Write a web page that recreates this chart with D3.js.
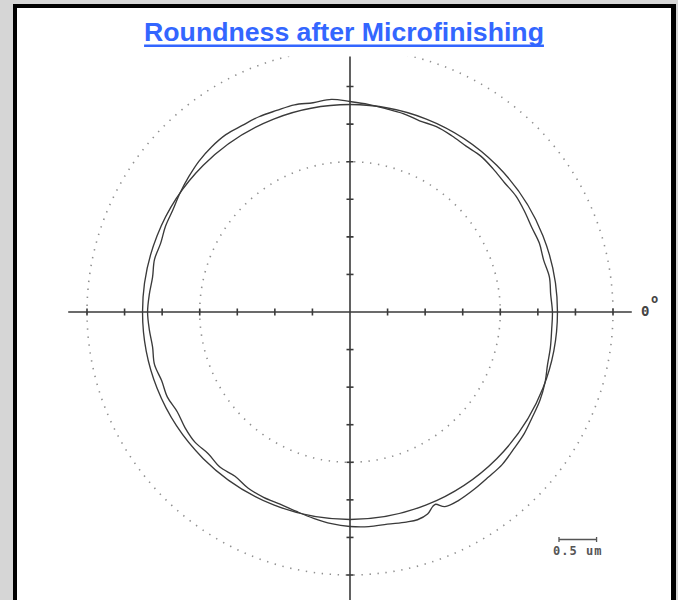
<!DOCTYPE html>
<html>
<head>
<meta charset="utf-8">
<script src="https://cdn.jsdelivr.net/npm/d3@7"></script>
<style>
  html, body { margin: 0; padding: 0; background: #d6d6d6; }
  svg { display: block; }
</style>
</head>
<body>
<script>
// ---- data ----
const titleText = "Roundness after Microfinishing";
const scaleLabel = "0.5 um";
const zeroLabel = "0";
// profile angles (degrees, counter-clockwise from 0° at right)
const profileAngles = [0,5,10,15,20,25,30,35,40,45,50,55,60,65,70,75,80,85,90,95,100,105,110,115,120,125,130,135,140,145,150,155,160,165,170,175,180,185,190,195,200,205,210,215,220,225,230,235,240,245,250,255,260,265,270,275,280,285,288,291,293,294,296,300,305,310,315,320,325,330,335,340,345,350,355];
// radial deviation from the reference circle (um)
const profileDeviation = [-0.067,-0.080,-0.067,-0.093,-0.080,-0.093,-0.080,-0.067,-0.080,-0.067,-0.053,-0.067,-0.053,-0.040,-0.053,-0.027,-0.013,0.013,0.040,0.080,0.067,0.093,0.093,0.106,0.106,0.120,0.106,0.080,0.040,0.000,-0.040,-0.053,-0.080,-0.067,-0.093,-0.080,-0.067,-0.080,-0.093,-0.067,-0.093,-0.080,-0.106,-0.080,-0.067,-0.093,-0.067,-0.093,-0.053,-0.040,-0.040,-0.013,0.027,0.067,0.093,0.106,0.106,0.133,0.146,0.120,0.053,0.040,0.120,0.133,0.120,0.106,0.106,0.080,0.067,0.040,0.027,0.000,-0.040,-0.053,-0.067];
const referenceRadius = 2.761;   // um
const dottedRadii = [2.0, 3.5];  // um
const tickValues = [-3.5,-3,-2.5,-2,-1.5,-1,-0.5,0.5,1,1.5,2,2.5,3,3.5];
const axisExtent = 3.75;
const scaleBarLength = 0.5;

// ---- layout ----
const W = 678, H = 600;
const cx = 350, cy = 312;
const R = d3.scaleLinear().domain([0, 3.5]).range([0, 263]);
const X = d3.scaleLinear().domain([-3.5, 3.5]).range([cx - R(3.5), cx + R(3.5)]);
const Y = d3.scaleLinear().domain([-3.5, 3.5]).range([cy + R(3.5), cy - R(3.5)]);

const svg = d3.select("body").append("svg").attr("width", W).attr("height", H);

// frame
svg.append("rect").attr("x", 0).attr("y", 0).attr("width", W).attr("height", H).attr("fill", "#d6d6d6");
svg.append("rect").attr("x", 13).attr("y", 4).attr("width", 663).attr("height", 700).attr("fill", "#000");
svg.append("rect").attr("x", 17).attr("y", 8).attr("width", 654).attr("height", 700).attr("fill", "#fff");

// title
const title = svg.append("text")
  .attr("x", 344).attr("y", 41)
  .attr("text-anchor", "middle")
  .attr("font-family", "'Liberation Sans', Arial, sans-serif")
  .attr("font-weight", "bold")
  .attr("font-size", "26.67px")
  .attr("fill", "#3366ff")
  .text(titleText);
const tw = title.node().getComputedTextLength();
svg.append("rect").attr("x", 344 - tw / 2).attr("y", 44.5).attr("width", tw).attr("height", 2.5).attr("fill", "#3366ff");

// plot area (clipped below title)
svg.append("clipPath").attr("id", "plotclip")
  .append("rect").attr("x", 17).attr("y", 56.5).attr("width", 654).attr("height", 560);
const g = svg.append("g").attr("clip-path", "url(#plotclip)");

const ink = "#3a3a3a";

// dotted circles
g.selectAll("circle.dot").data(dottedRadii).join("circle")
  .attr("class", "dot")
  .attr("cx", cx).attr("cy", cy).attr("r", d => R(d))
  .attr("fill", "none").attr("stroke", "#909090")
  .attr("stroke-width", 1.6)
  .attr("stroke-dasharray", "1.4,6.6");

// axes
g.append("line").attr("x1", X(-axisExtent)).attr("x2", X(axisExtent)).attr("y1", cy).attr("y2", cy)
  .attr("stroke", ink).attr("stroke-width", 1.6);
g.append("line").attr("x1", cx).attr("x2", cx).attr("y1", Y(axisExtent)).attr("y2", Y(-4.2))
  .attr("stroke", ink).attr("stroke-width", 1.6);
g.selectAll("line.xt").data(tickValues).join("line").attr("class", "xt")
  .attr("x1", d => X(d)).attr("x2", d => X(d)).attr("y1", cy - 3.5).attr("y2", cy + 3.5)
  .attr("stroke", ink).attr("stroke-width", 1.6);
g.selectAll("line.yt").data(tickValues).join("line").attr("class", "yt")
  .attr("y1", d => Y(d)).attr("y2", d => Y(d)).attr("x1", cx - 3.5).attr("x2", cx + 3.5)
  .attr("stroke", ink).attr("stroke-width", 1.6);

// reference circle
g.append("circle").attr("cx", cx).attr("cy", cy).attr("r", R(referenceRadius))
  .attr("fill", "none").attr("stroke", ink).attr("stroke-width", 1.35);

// profile
const pts = profileAngles.map((a, i) => ({ a, r: referenceRadius + profileDeviation[i] }));
const radial = d3.lineRadial()
  .angle(d => (90 - d.a) * Math.PI / 180)
  .radius(d => R(d.r))
  .curve(d3.curveCatmullRomClosed.alpha(0.5));
g.append("path").attr("transform", `translate(${cx},${cy})`)
  .attr("d", radial(pts))
  .attr("fill", "none").attr("stroke", ink).attr("stroke-width", 1.35)
  .attr("stroke-linejoin", "round");

// 0° label
const mono = "'DejaVu Sans Mono', 'Liberation Mono', monospace";
svg.append("text").attr("x", 641).attr("y", 316)
  .attr("font-family", mono).attr("font-size", "14px").attr("font-weight", "bold").attr("fill", "#444")
  .text(zeroLabel);
svg.append("text").attr("x", 651).attr("y", 303)
  .attr("font-family", mono).attr("font-size", "12px").attr("font-weight", "bold").attr("fill", "#444")
  .text("o");

// scale bar
const sbX0 = 559, sbY = 539.5;
const sbLen = R(scaleBarLength) - R(0);
svg.append("line").attr("x1", sbX0).attr("x2", sbX0 + sbLen).attr("y1", sbY).attr("y2", sbY)
  .attr("stroke", "#555").attr("stroke-width", 1.3);
[sbX0, sbX0 + sbLen].forEach(x => {
  svg.append("line").attr("x1", x).attr("x2", x).attr("y1", sbY - 2.5).attr("y2", sbY + 2.5)
    .attr("stroke", "#555").attr("stroke-width", 1.3);
});
svg.append("text").attr("x", sbX0 + sbLen / 2).attr("y", 555)
  .attr("text-anchor", "middle")
  .attr("font-family", mono).attr("font-size", "12px").attr("font-weight", "bold")
  .attr("letter-spacing", "1px").attr("fill", "#555")
  .text(scaleLabel);
</script>
</body>
</html>
